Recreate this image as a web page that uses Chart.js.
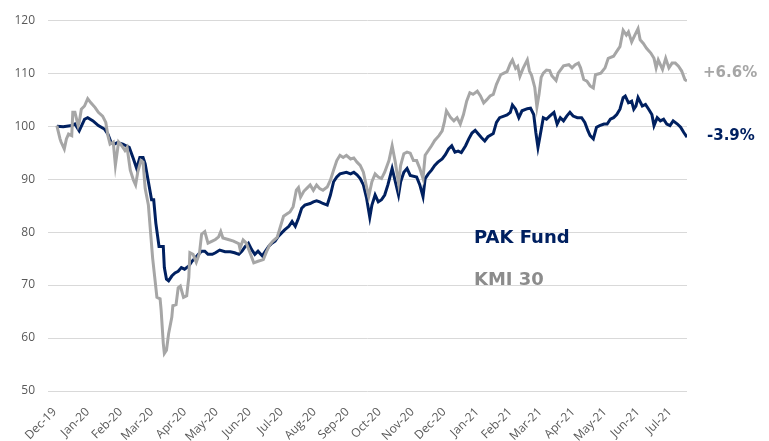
<!DOCTYPE html>
<html>
<head>
<meta charset="utf-8">
<script src="https://cdn.jsdelivr.net/npm/chart.js@4.4.0/dist/chart.umd.min.js"></script>
<style>
  body { margin: 0; background: #ffffff; }
  #wrap { width: 769px; height: 441px; position: relative; }
</style>
</head>
<body>
<div id="wrap"><canvas id="perf-chart"></canvas></div>
<script>
// month tick labels, first one is 1-Dec-2019 (day 0)
const monthLabels = ['Dec-19', 'Jan-20', 'Feb-20', 'Mar-20', 'Apr-20', 'May-20', 'Jun-20',
    'Jul-20', 'Aug-20', 'Sep-20', 'Oct-20', 'Nov-20', 'Dec-20', 'Jan-21', 'Feb-21',
    'Mar-21', 'Apr-21', 'May-21', 'Jun-21', 'Jul-21'];

// PAK Fund, days since 1-Dec-2019 and rebased value
const pakDays = [
    2, 8, 16, 19, 23, 28, 31, 36, 41, 47, 50, 53, 56, 59, 64, 67, 70, 74, 77, 80,
    83, 85, 88, 91, 93, 95, 98, 102, 103, 105, 107, 110, 113, 116, 119, 122, 126, 129, 132, 135,
    138, 141, 144, 148, 151, 155, 160, 165, 169, 173, 176, 179, 182, 185, 188, 191, 195, 198, 201, 204,
    207, 210, 213, 216, 220, 223, 226, 229, 232, 235, 240, 243, 246, 249, 252, 256, 259, 262, 265, 268,
    274, 278, 281, 284, 287, 290, 293, 296, 298, 301, 304, 307, 310, 313, 317, 320, 323, 325, 328, 331,
    334, 340, 343, 346, 348, 351, 354, 357, 360, 364, 367, 370, 373, 376, 379, 382, 386, 389, 392, 395,
    398, 401, 404, 407, 412, 415, 418, 422, 425, 428, 430, 433, 436, 439, 444, 447, 450, 452, 454, 456,
    459, 462, 465, 469, 472, 475, 478, 481, 484, 487, 491, 495, 498, 501, 503, 506, 509, 512, 516, 519,
    522, 525, 528, 531, 534, 536, 539, 542, 544, 546, 548, 552, 555, 558, 561, 563, 566, 569, 572, 575,
    578, 581, 585, 588, 591, 594
];
const pakValues = [
    100.0, 99.9, 100.1, 100.4, 99.1, 101.3, 101.6, 101.0, 100.1, 99.4, 98.5, 96.9, 96.6, 96.9, 96.6, 96.3, 96.0, 93.8, 92.0, 94.1,
    94.1, 92.9, 89.5, 86.1, 86.1, 81.7, 77.3, 77.3, 73.3, 71.1, 70.8, 71.7, 72.3, 72.6, 73.3, 73.0, 73.6, 74.5, 75.1, 75.8,
    76.4, 76.4, 75.8, 75.8, 76.1, 76.6, 76.3, 76.3, 76.1, 75.8, 76.4, 77.3, 77.9, 76.7, 75.8, 76.4, 75.5, 76.4, 77.3, 77.9,
    78.3, 79.2, 79.8, 80.4, 81.1, 82.0, 81.1, 82.6, 84.5, 85.1, 85.4, 85.7, 85.9, 85.7, 85.4, 85.1, 87.0, 89.5, 90.4, 91.0,
    91.3, 91.0, 91.3, 90.8, 90.1, 88.9, 86.4, 82.8, 85.1, 87.0, 85.7, 86.1, 87.0, 88.9, 92.0, 89.5, 87.0, 89.5, 91.3, 92.0,
    90.7, 90.4, 88.9, 86.7, 90.1, 91.0, 91.7, 92.6, 93.2, 93.8, 94.6, 95.7, 96.3, 95.1, 95.3, 95.0, 96.3, 97.6, 98.7, 99.2,
    98.5, 97.8, 97.2, 98.0, 98.6, 100.7, 101.6, 101.9, 102.1, 102.6, 104.0, 103.2, 101.6, 102.9, 103.3, 103.4, 102.2, 98.8, 96.0, 98.2,
    101.6, 101.3, 101.9, 102.6, 100.4, 101.6, 101.0, 101.9, 102.6, 101.9, 101.6, 101.6, 100.7, 99.1, 98.2, 97.6, 99.8, 100.1, 100.4, 100.4,
    101.3, 101.6, 102.2, 103.2, 105.4, 105.7, 104.4, 104.7, 103.2, 103.8, 105.4, 103.8, 104.1, 103.2, 102.2, 100.1, 101.6, 101.0, 101.3, 100.4,
    100.1, 101.0, 100.4, 99.8, 98.8, 97.9
];

// KMI 30 index, same basis
const kmiDays = [
    2, 5, 6, 9, 11, 13, 16, 17, 19, 22, 23, 25, 28, 31, 34, 38, 41, 45, 48, 50,
    52, 55, 57, 60, 63, 66, 68, 71, 74, 76, 78, 81, 83, 85, 88, 90, 92, 94, 96, 99,
    100, 102, 103, 105, 107, 110, 111, 114, 116, 118, 121, 124, 126, 127, 130, 133, 136, 138, 141, 144,
    148, 151, 154, 156, 158, 163, 168, 173, 174, 177, 180, 184, 187, 191, 196, 199, 202, 205, 209, 212,
    215, 218, 221, 224, 227, 229, 231, 234, 237, 240, 243, 246, 249, 252, 256, 259, 262, 265, 268, 271,
    274, 278, 281, 284, 287, 290, 293, 295, 298, 301, 304, 307, 310, 314, 317, 320, 323, 325, 328, 331,
    334, 337, 340, 343, 346, 348, 351, 354, 357, 361, 364, 366, 368, 372, 375, 378, 381, 384, 387, 390,
    393, 397, 400, 403, 406, 409, 412, 415, 419, 422, 425, 428, 430, 433, 435, 437, 440, 444, 446, 448,
    451, 453, 455, 457, 459, 462, 465, 467, 471, 473, 478, 483, 486, 489, 492, 494, 497, 500, 503, 506,
    508, 513, 517, 520, 525, 528, 531, 534, 537, 539, 542, 545, 548, 550, 553, 556, 560, 563, 565, 567,
    571, 574, 577, 580, 583, 586, 589, 592, 594
];
const kmiValues = [
    100.1, 97.6, 97.0, 95.7, 97.6, 98.5, 98.2, 102.6, 102.6, 100.1, 100.7, 103.2, 103.8, 105.2, 104.4, 103.5, 102.6, 101.9, 100.7, 98.2,
    96.6, 97.0, 92.6, 97.0, 96.3, 95.4, 96.0, 91.7, 89.8, 88.9, 91.3, 93.5, 93.2, 88.2, 85.1, 80.1, 75.1, 71.4, 67.7, 67.4,
    65.2, 59.0, 57.1, 57.7, 60.8, 63.9, 66.1, 66.3, 69.5, 69.8, 67.7, 68.0, 71.5, 76.1, 75.8, 74.3, 76.0, 79.6, 80.1, 77.9,
    78.3, 78.6, 79.1, 80.1, 78.9, 78.6, 78.3, 77.8, 76.9, 78.5, 77.9, 75.8, 74.2, 74.5, 74.8, 76.3, 77.6, 78.3, 79.0, 81.0,
    83.0, 83.4, 83.8, 84.8, 87.9, 88.4, 86.6, 87.7, 88.3, 88.9, 87.9, 88.9, 88.2, 87.9, 88.5, 89.8, 91.7, 93.5, 94.5, 94.1,
    94.5, 93.8, 94.0, 93.2, 92.6, 91.3, 88.5, 86.7, 89.5, 91.0, 90.4, 90.1, 91.3, 93.5, 96.3, 93.2, 89.2, 92.6, 94.8, 95.1,
    94.9, 93.5, 93.5, 92.0, 90.1, 94.5, 95.4, 96.3, 97.3, 98.2, 99.1, 100.7, 102.9, 101.6, 101.0, 101.6, 100.4, 102.2, 104.7, 106.3,
    106.0, 106.6, 105.7, 104.4, 105.0, 105.7, 106.0, 107.9, 109.7, 110.0, 110.3, 111.8, 112.5, 110.9, 111.3, 109.4, 110.9, 112.5, 110.4, 109.6,
    107.3, 103.6, 106.0, 109.2, 110.0, 110.6, 110.5, 109.5, 108.6, 110.0, 111.4, 111.6, 111.0, 111.6, 111.9, 111.0, 108.8, 108.5, 107.6, 107.2,
    109.7, 110.0, 111.0, 112.8, 113.2, 114.1, 115.0, 118.1, 117.2, 117.8, 115.9, 117.2, 118.4, 116.3, 115.6, 114.7, 113.8, 112.8, 111.0, 112.5,
    110.7, 112.8, 111.0, 111.9, 111.9, 111.3, 110.4, 108.8, 108.5
];

const yTicks = [50, 60, 70, 80, 90, 100, 110, 120];

const NAVY = '#002060';
const GREY = '#a6a6a6';
const TICK_COLOR = '#595959';

// day offset of the 1st of each labelled month
const monthStarts = monthLabels.map((_, i) =>
    Math.round((new Date(2019, 11 + i, 1) - new Date(2019, 11, 1)) / 86400000));

function toPoints(days, values) {
    return days.map((d, i) => ({ x: d, y: values[i] }));
}

// text labels sitting next to the lines
const labelPlugin = {
    id: 'sideLabels',
    afterDraw(chart) {
        const ctx = chart.ctx;
        ctx.save();
        ctx.textBaseline = 'middle';
        ctx.textAlign = 'left';

        ctx.font = "bold 15px 'DejaVu Sans'";
        ctx.fillStyle = GREY;
        ctx.fillText('+6.6%', 703, 73);
        ctx.fillStyle = NAVY;
        ctx.fillText('-3.9%', 707, 136);

        ctx.font = "bold 18px 'DejaVu Sans'";
        ctx.fillStyle = NAVY;
        ctx.fillText('PAK Fund', 474, 238);
        ctx.fillStyle = '#8c8c8c';
        ctx.fillText('KMI 30', 474, 280);
        ctx.restore();
    }
};

new Chart(document.getElementById('perf-chart'), {
    type: 'line',
    data: {
        datasets: [{
            label: 'PAK Fund',
            data: toPoints(pakDays, pakValues),
            borderColor: NAVY,
            borderWidth: 3,
            pointRadius: 0,
            tension: 0,
            order: 1
        }, {
            label: 'KMI 30',
            data: toPoints(kmiDays, kmiValues),
            borderColor: GREY,
            borderWidth: 3,
            pointRadius: 0,
            tension: 0,
            order: 0
        }]
    },
    options: {
        responsive: true,
        maintainAspectRatio: false,
        animation: false,
        layout: {
            padding: { left: 0, right: 82, top: 16, bottom: 0 }
        },
        plugins: {
            legend: { display: false },
            tooltip: { enabled: false }
        },
        scales: {
            x: {
                type: 'linear',
                min: -6.3,
                max: 594,
                grid: { display: false },
                border: { display: false },
                afterBuildTicks: scale => {
                    scale.ticks = monthStarts.map(v => ({ value: v }));
                },
                afterFit: scale => { scale.height = 50; },
                ticks: {
                    autoSkip: false,
                    minRotation: 45,
                    maxRotation: 45,
                    padding: 6,
                    color: TICK_COLOR,
                    font: { size: 12, family: "'Open Sans'" },
                    callback: (value, index) => monthLabels[index]
                }
            },
            y: {
                min: 50,
                max: 120,
                afterBuildTicks: scale => {
                    scale.ticks = yTicks.map(v => ({ value: v }));
                },
                afterFit: scale => { scale.width = 48; },
                grid: {
                    color: '#d9d9d9',
                    lineWidth: 1,
                    drawTicks: false
                },
                border: { display: false },
                ticks: {
                    padding: 13,
                    color: TICK_COLOR,
                    font: { size: 12, family: "'Open Sans'" }
                }
            }
        }
    },
    plugins: [labelPlugin]
});
</script>
</body>
</html>
